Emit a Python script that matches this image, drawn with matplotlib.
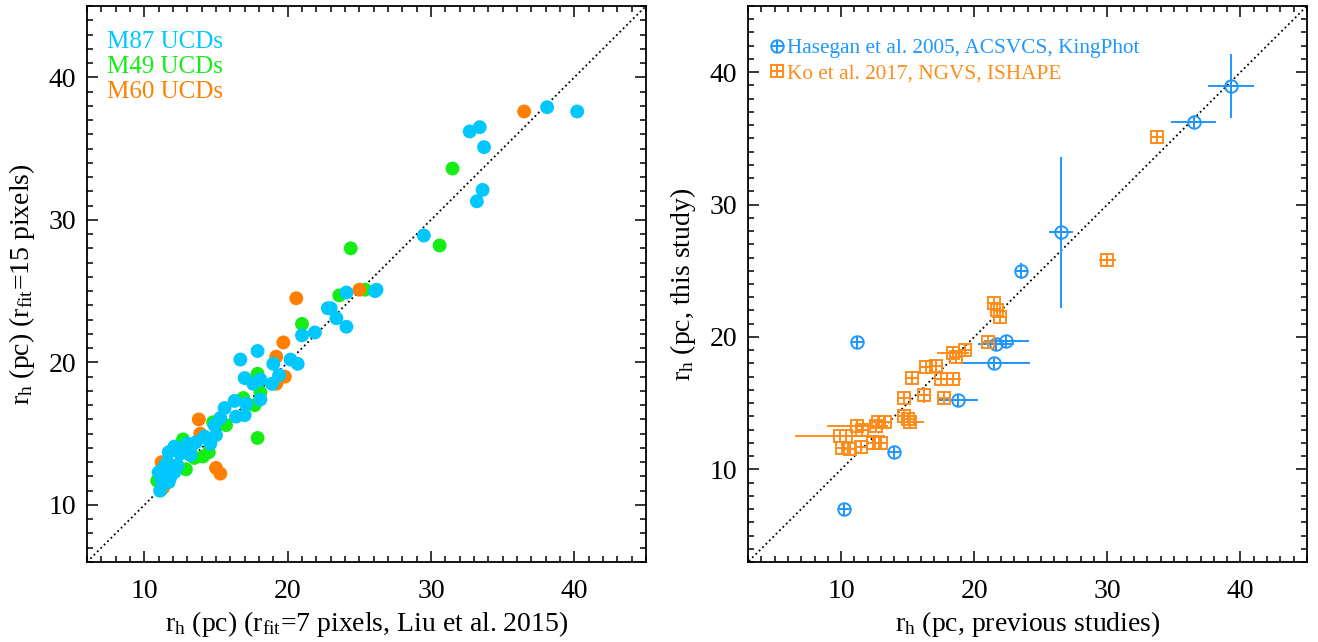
import matplotlib
matplotlib.use("Agg")
import matplotlib.pyplot as plt
from matplotlib.legend_handler import HandlerTuple
import numpy as np

plt.rcParams['font.family'] = ['Liberation Serif', 'DejaVu Serif']
plt.rcParams['mathtext.fontset'] = 'custom'
plt.rcParams['mathtext.rm'] = 'Liberation Serif'
plt.rcParams['mathtext.it'] = 'Liberation Serif:italic'

# ---------------- Left panel data ----------------
m87_x = [38.1, 40.2, 32.7, 33.4, 33.7, 33.6, 33.2, 29.5, 26.2, 26.1, 24.1, 23.4, 24.1, 23.0,
         22.8, 21.0, 21.9, 17.9, 16.7, 19.0, 20.2, 20.7, 17.0, 17.6, 18.1, 19.4, 18.9, 18.1,
         17.1, 16.3, 15.6, 17.0, 16.4, 15.3, 14.9, 14.2, 15.0, 14.6, 12.1, 13.0, 13.6, 13.2,
         11.7, 12.5, 11.6, 12.3, 11.0, 11.6, 12.1, 11.2, 11.7, 11.1, 11.8, 11.4, 12.7, 13.2]
m87_y = [37.9, 37.6, 36.2, 36.5, 35.1, 32.1, 31.3, 28.9, 25.1, 25.0, 24.9, 23.1, 22.5, 23.8,
         23.8, 21.9, 22.1, 20.8, 20.2, 19.9, 20.2, 19.9, 18.9, 18.5, 18.8, 19.1, 18.5, 17.4,
         17.1, 17.3, 16.8, 16.3, 16.2, 16.1, 15.6, 14.8, 14.9, 14.3, 14.1, 14.3, 14.4, 13.9,
         13.7, 13.6, 13.0, 12.8, 12.3, 12.2, 12.3, 11.8, 11.6, 11.0, 11.9, 12.7, 13.9, 13.5]
m49_x = [31.5, 30.6, 24.4, 25.4, 23.6, 21.0, 17.9, 18.1, 17.7, 16.9, 17.9, 14.8, 15.7, 12.7,
         14.1, 14.5, 13.5, 12.9, 10.9]
m49_y = [33.6, 28.2, 28.0, 25.1, 24.7, 22.7, 19.2, 17.9, 17.0, 17.5, 14.7, 15.8, 15.6, 14.6,
         13.4, 13.7, 13.3, 12.5, 11.7]
m60_x = [36.5, 25.0, 20.6, 19.7, 19.2, 19.8, 19.2, 13.8, 13.9, 15.0, 15.3, 11.2, 11.3]
m60_y = [37.6, 25.1, 24.5, 21.4, 20.4, 19.0, 18.5, 16.0, 15.0, 12.6, 12.2, 13.0, 11.2]

# ---------------- Right panel data ----------------
has_x = [39.3, 36.5, 26.5, 23.5, 11.2, 21.6, 22.4, 21.5, 18.8, 14.0, 10.2]
has_y = [38.95, 36.2, 27.9, 25.0, 19.6, 19.5, 19.7, 18.0, 15.2, 11.3, 7.0]
has_xerr = [1.75, 1.7, 0.9, 0.1, 0.1, 1.35, 1.7, 2.7, 1.5, 0.1, 0.1]
has_yerr = [2.4, 0.3, 5.7, 0.6, 0.3, 0.3, 0.3, 0.3, 0.5, 0.3, 0.3]

ko_x = [33.7, 30.0, 21.5, 21.7, 21.9, 21.0, 18.4, 19.3, 18.6, 16.4, 17.1, 15.3, 17.5, 18.4,
        16.2, 14.7, 17.7, 14.7, 15.2, 12.8, 13.3, 11.2, 11.6, 9.9, 10.4, 10.1, 10.7, 11.5,
        12.4, 13.0, 12.6, 15.0]
ko_y = [35.1, 25.8, 22.6, 22.0, 21.5, 19.6, 18.8, 19.0, 18.5, 17.7, 17.8, 16.9, 16.8, 16.8,
        15.6, 15.4, 15.4, 14.0, 13.6, 13.6, 13.6, 13.3, 13.0, 12.5, 12.5, 11.6, 11.5, 11.7,
        12.0, 12.0, 13.3, 13.8]
ko_xerr = [0.2, 0.65, 0.2, 0.5, 0.5, 0.3, 1.2, 0.5, 0.3, 0.3, 0.2, 0.2, 0.3, 0.6,
           0.2, 0.2, 0.2, 0.3, 1.0, 0.3, 0.3, 2.3, 0.3, 3.4, 0.3, 0.2, 0.3, 0.3,
           0.3, 0.3, 0.3, 0.3]
ko_yerr = [0.2, 0.2, 0.3, 0.4, 0.3, 0.2, 0.3, 0.4, 0.3, 0.2, 0.4, 0.2, 0.2, 0.2,
           0.6, 0.2, 0.2, 0.2, 0.5, 0.2, 0.2, 0.3, 0.3, 0.3, 0.2, 0.2, 0.2, 0.2,
           0.2, 0.2, 0.3, 0.2]

c_m87 = '#00C8FF'
c_m49 = '#14EE14'
c_m60 = '#FF8000'
c_has = '#1E96FF'
c_ko = '#FF8C1A'

fig = plt.figure(figsize=(13.18, 6.42), dpi=100)
ax1 = fig.add_axes([87/1318, 1-562/642, (646-87)/1318, (562-6)/642])
ax2 = fig.add_axes([748/1318, 1-562/642, (1307-748)/1318, (562-6)/642])

FS = 20
for ax in (ax1, ax2):
    ax.tick_params(which='both', direction='in', top=True, right=True, labelsize=FS)
    ax.tick_params(axis='x', pad=12)
    ax.tick_params(axis='y', pad=8)
    ax.tick_params(which='major', length=8, width=1.1)
    ax.tick_params(which='minor', length=4, width=1.1)
    ax.xaxis.set_major_locator(plt.MultipleLocator(10))
    ax.yaxis.set_major_locator(plt.MultipleLocator(10))
    ax.xaxis.set_minor_locator(plt.MultipleLocator(1))
    ax.yaxis.set_minor_locator(plt.MultipleLocator(1))
    for s in ax.spines.values():
        s.set_linewidth(1.3)
    ax.plot([0, 50], [0, 50], ls=':', color='k', lw=1.3, zorder=1)

# Left panel
ms = 100
ax1.scatter(m87_x, m87_y, s=ms, color=c_m87, edgecolors='none', zorder=3)
ax1.scatter(m49_x, m49_y, s=ms, color=c_m49, edgecolors='none', zorder=2)
ax1.scatter(m60_x, m60_y, s=ms, color=c_m60, edgecolors='none', zorder=2)
ax1.set_xlim(6, 45)
ax1.set_ylim(6, 45)
ax1.set_xlabel(r'r$_\mathrm{h}$ (pc) (r$_\mathrm{fit}$=7 pixels, Liu et al. 2015)', fontsize=FS, labelpad=4)
ax1.set_ylabel(r'r$_\mathrm{h}$ (pc) (r$_\mathrm{fit}$=15 pixels)', fontsize=FS, labelpad=8)
for i, (lab, col) in enumerate([('M87 UCDs', c_m87), ('M49 UCDs', c_m49), ('M60 UCDs', c_m60)]):
    ax1.text(0.036, 0.935 - i*0.0445, lab, color=col, fontsize=18, transform=ax1.transAxes,
             va='center', ha='left')

# Right panel
msz = 9
mew = 1.4
ax2.errorbar(has_x, has_y, xerr=has_xerr, yerr=has_yerr, fmt='none', ecolor=c_has,
             elinewidth=1.4, capsize=0, zorder=2)
h1c, = ax2.plot(has_x, has_y, 'o', ms=msz, mfc='none', mec=c_has, mew=mew, ls='none', zorder=3)
h1p, = ax2.plot(has_x, has_y, '+', ms=msz, mec=c_has, mew=mew, ls='none', zorder=3)
ax2.errorbar(ko_x, ko_y, xerr=ko_xerr, yerr=ko_yerr, fmt='none', ecolor=c_ko,
             elinewidth=1.4, capsize=0, zorder=2)
h2c, = ax2.plot(ko_x, ko_y, 's', ms=msz, mfc='none', mec=c_ko, mew=mew, ls='none', zorder=3)
h2p, = ax2.plot(ko_x, ko_y, '+', ms=msz, mec=c_ko, mew=mew, ls='none', zorder=3)
ax2.set_xlim(3, 45)
ax2.set_ylim(3, 45)
ax2.set_xlabel(r'r$_\mathrm{h}$ (pc, previous studies)', fontsize=FS, labelpad=4)
ax2.set_ylabel(r'r$_\mathrm{h}$ (pc, this study)', fontsize=FS, labelpad=8)
leg = ax2.legend([(h1c, h1p), (h2c, h2p)],
                 ['Hasegan et al. 2005, ACSVCS, KingPhot', 'Ko et al. 2017, NGVS, ISHAPE'],
                 handler_map={tuple: HandlerTuple(ndivide=1, pad=0)},
                 loc='upper left', frameon=False, fontsize=15.3, handlelength=0.6,
                 handletextpad=0.2, borderaxespad=0.0, labelspacing=0.25,
                 labelcolor=[c_has, c_ko], bbox_to_anchor=(0.025, 0.957))

fig.savefig('out.png', dpi=100)
